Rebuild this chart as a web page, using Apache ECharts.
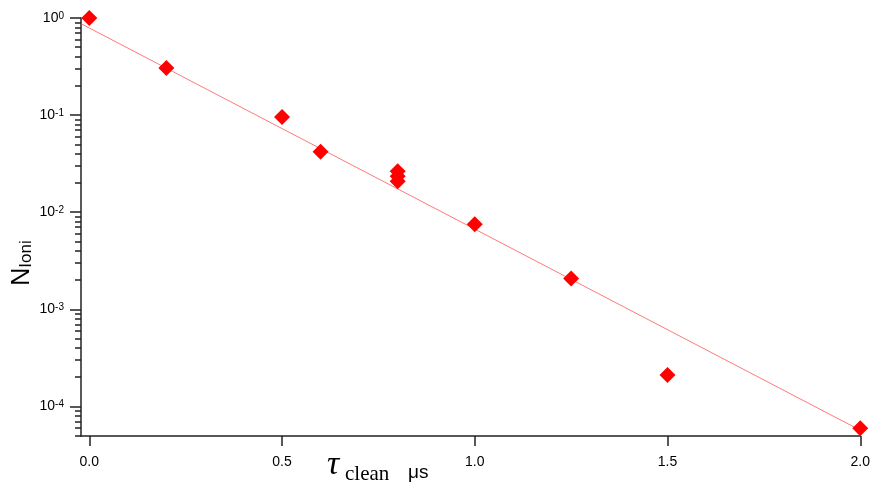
<!DOCTYPE html>
<html>
<head>
<meta charset="utf-8">
<script src="https://cdn.jsdelivr.net/npm/echarts@6/dist/echarts.min.js"></script>
<style>
html,body{margin:0;padding:0;background:#fff;}
#chart{width:873px;height:483px;}
</style>
</head>
<body>
<div id="chart"></div>
<script>
// Measured data: cleaning time (µs) vs normalized ionization count
const tClean = [0, 0.2, 0.5, 0.6, 0.8, 0.8, 0.8, 1.0, 1.25, 1.5, 2.0];
const nIoni = [1.0, 0.306, 0.0958, 0.042, 0.0264, 0.0235, 0.0208, 0.0075, 0.00208, 0.00021, 0.0000595];
// Exponential fit line end points
const fitT = [-0.02, 2.0];
const fitN = [0.868, 0.0000568];
// Tick labels
const xTickValues = [0, 0.5, 1.0, 1.5, 2.0];
const yDecades = [-4, -3, -2, -1, 0];

const log10 = Math.log10;
const minorTicks = [];
for (let e = -5; e <= -1; e++) {
  for (let k = 2; k <= 9; k++) {
    minorTicks.push(log10(k * Math.pow(10, e)));
  }
}
const yMin = -4.305, yMax = 0;

const axisColor = '#222';
const txt = '#000';
const chart = echarts.init(document.getElementById('chart'), null, {renderer: 'canvas'});
chart.setOption({
  animation: false,
  backgroundColor: '#fff',
  grid: {left: 81, right: 11, top: 18, bottom: 47},
  xAxis: {
    type: 'value', min: -0.0215, max: 2.0,
    axisLine: {show: true, onZero: false, lineStyle: {color: axisColor, width: 1.5}},
    axisTick: {show: true, customValues: xTickValues, length: 10, lineStyle: {color: axisColor, width: 1.5}},
    axisLabel: {customValues: xTickValues, formatter: v => v.toFixed(1), fontFamily: 'Liberation Sans', fontSize: 14, color: txt, margin: 19},
    splitLine: {show: false}
  },
  yAxis: [{
    type: 'value', min: yMin, max: yMax, position: 'left',
    axisLine: {show: true, onZero: false, lineStyle: {color: axisColor, width: 1.5}},
    axisTick: {show: true, customValues: yDecades, length: 11, lineStyle: {color: axisColor, width: 1.5}},
    axisLabel: {
      customValues: yDecades,
      margin: 17,
      formatter: v => '{b|10}{s|' + Math.round(v) + '}',
      rich: {
        b: {fontFamily: 'Liberation Sans', fontSize: 14, lineHeight: 14, color: txt, verticalAlign: 'bottom', padding: [6, 0, 0, 0]},
        s: {fontFamily: 'Liberation Sans', fontSize: 10, lineHeight: 10, color: txt, verticalAlign: 'top'}
      }
    },
    splitLine: {show: false}
  }, {
    type: 'value', min: yMin, max: yMax, position: 'left', offset: 0,
    axisLine: {show: false, onZero: false},
    axisTick: {show: true, inside: false, customValues: minorTicks, length: 6, lineStyle: {color: axisColor, width: 1.5}},
    axisLabel: {show: false},
    splitLine: {show: false}
  }],
  graphic: [
    {type: 'text', x: 22, y: 263, rotation: Math.PI / 2,
      style: {text: '{n|N}{s|Ioni}', align: 'center', verticalAlign: 'middle',
        rich: {
          n: {fontFamily: 'Liberation Sans', fontSize: 25, lineHeight: 25, fill: txt, verticalAlign: 'top'},
          s: {fontFamily: 'Liberation Sans', fontSize: 17, lineHeight: 17, fill: txt, verticalAlign: 'bottom', padding: [11, 0, 0, 0]}
        }}},
    {type: 'text', x: 327, y: 482, style: {text: 'τ', font: 'italic 34px "Liberation Serif"', fill: txt, verticalAlign: 'bottom'}},
    {type: 'text', x: 345, y: 485, style: {text: 'clean', font: '21px "Liberation Serif"', fill: txt, verticalAlign: 'bottom'}},
    {type: 'text', x: 408, y: 482, style: {text: 'μs', font: '19px "Liberation Sans"', fill: txt, verticalAlign: 'bottom'}}
  ],
  series: [{
    type: 'line',
    data: fitT.map((t, i) => [t, log10(fitN[i])]),
    showSymbol: false,
    lineStyle: {color: '#ff7a7a', width: 1},
    z: 1
  }, {
    type: 'scatter',
    data: tClean.map((t, i) => [t, log10(nIoni[i])]),
    symbol: 'diamond',
    symbolSize: 16,
    itemStyle: {color: '#ff0000', opacity: 1},
    z: 2
  }]
});
</script>
</body>
</html>
